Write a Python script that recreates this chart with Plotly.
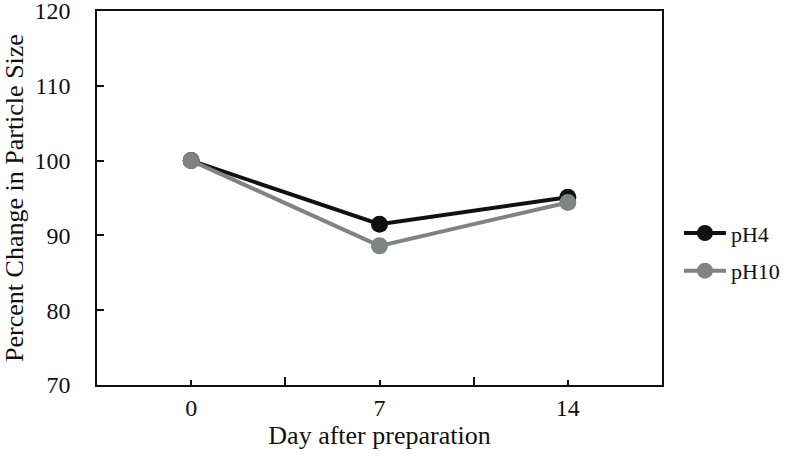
import plotly.graph_objects as go

days = [0, 7, 14]
day_labels = ["0", "7", "14"]
ph4 = [100, 91.5, 95.1]
ph10 = [100, 88.6, 94.4]
y_ticks = [70, 80, 90, 100, 110, 120]

font = "Liberation Serif"

fig = go.Figure()
fig.add_trace(go.Scatter(x=days, y=ph4, name="pH4", mode="lines+markers",
                         legendgroup="a",
                         line=dict(color="#111111", width=4),
                         marker=dict(color="#111111", size=17)))
fig.add_trace(go.Scatter(x=days, y=ph10, name="pH10", mode="lines+markers",
                         legendgroup="b",
                         line=dict(color="#7d8483", width=4),
                         marker=dict(color="#7d8483", size=17)))

fig.update_layout(
    width=798, height=459,
    margin=dict(l=97, r=136, t=11, b=74),
    paper_bgcolor="white", plot_bgcolor="white",
    font=dict(family=font, size=24, color="#111111"),
    showlegend=True,
    legend=dict(x=1.03, y=0.355, xanchor="left", yanchor="middle",
                font=dict(family=font, size=22), itemwidth=42, tracegroupgap=6,
                bgcolor="rgba(0,0,0,0)"),
    xaxis=dict(range=[-3.5, 17.5], tickmode="array", tickvals=days, ticktext=day_labels,
               ticks="inside", ticklen=5, tickwidth=1.5, tickcolor="#111111",
               minor=dict(tickmode="array", tickvals=[3.5, 10.5], ticks="inside",
                          ticklen=8, tickwidth=1.5, tickcolor="#111111"),
               showline=True, linecolor="#111111", linewidth=1.5, mirror=True,
               showgrid=False, zeroline=False, automargin=False,
               ticklabeloverflow="allow",
               title=dict(text="Day after preparation", standoff=4,
                          font=dict(family=font, size=26)),
               tickfont=dict(family=font, size=24)),
    yaxis=dict(range=[70, 120], tickmode="array", tickvals=y_ticks,
               ticks="inside", ticklen=7, tickwidth=1.5, tickcolor="#111111",
               ticklabelstandoff=20,
               showline=True, linecolor="#111111", linewidth=1.5, mirror=True,
               showgrid=False, zeroline=False, automargin=False,
               ticklabeloverflow="allow",
               title=dict(text="Percent Change in Particle Size", standoff=4,
                          font=dict(family=font, size=26)),
               tickfont=dict(family=font, size=24)),
)

fig.write_html("out.html", config={"displayModeBar": False},
               post_script="document.body.style.margin='0';")
